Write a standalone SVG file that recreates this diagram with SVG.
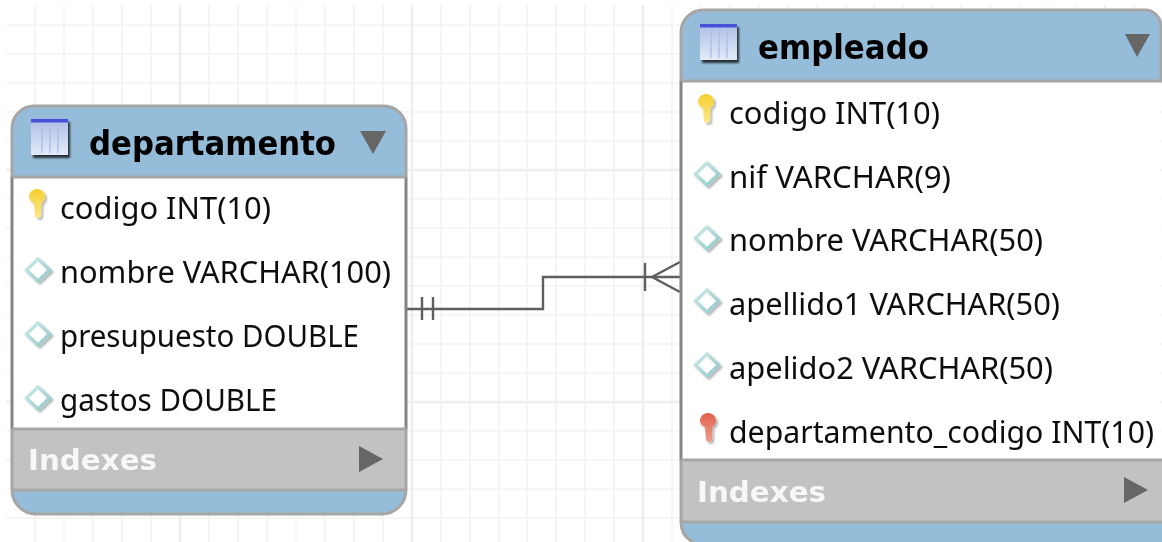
<svg xmlns="http://www.w3.org/2000/svg" width="1162" height="542" viewBox="0 0 1162 542">
<style>
.g{stroke:#f3f3f3;stroke-width:1.6;fill:none}
.G{stroke:#efefef;stroke-width:2.6;fill:none}
.t{font-family:"Noto Sans","Liberation Sans",Arial,sans-serif;font-size:30px;fill:#111;filter:url(#soft)}
.h{font-family:"DejaVu Sans",Verdana,sans-serif;font-weight:700;font-size:33px;fill:#060606;filter:url(#soft)}
.x{font-family:"DejaVu Sans",Verdana,sans-serif;font-weight:700;font-size:28px;fill:#f7f7f7;filter:url(#soft)}
.b{fill:#95bcd8}.i{fill:#c2c2c2}.w{fill:#fff}
.o{fill:none;stroke:#a6a6a6;stroke-width:3}
.s{fill:none;stroke:#858585;stroke-width:3}
.a{fill:#666}
.c{fill:none;stroke:#5e5e5e;stroke-width:2.4}
</style>
<defs>
<filter id="soft" x="-5%" y="-20%" width="110%" height="140%"><feGaussianBlur stdDeviation="0.45"/></filter>
<filter id="sh" x="-30%" y="-30%" width="170%" height="170%"><feGaussianBlur in="SourceAlpha" stdDeviation="1"/><feOffset dx="1.5" dy="2"/><feComponentTransfer><feFuncA type="linear" slope="0.3"/></feComponentTransfer><feMerge><feMergeNode/><feMergeNode in="SourceGraphic"/></feMerge></filter>
<filter id="shd" x="-30%" y="-30%" width="170%" height="170%"><feGaussianBlur in="SourceAlpha" stdDeviation="1.1"/><feOffset dx="2" dy="2.500"/><feComponentTransfer><feFuncA type="linear" slope="0.75"/></feComponentTransfer><feMerge><feMergeNode/><feMergeNode in="SourceGraphic"/></feMerge></filter>
<linearGradient id="tb" x1="0" y1="0" x2="0" y2="1"><stop offset="0" stop-color="#aebee6"/><stop offset="1" stop-color="#e4ebf8"/></linearGradient>
<linearGradient id="dg" x1="0" y1="0" x2="1" y2="1"><stop offset="0" stop-color="#cfe9e9"/><stop offset="1" stop-color="#8fc8c8"/></linearGradient>
<linearGradient id="ky" x1="0" y1="0" x2="0" y2="1"><stop offset="0" stop-color="#f5cf2e"/><stop offset="1" stop-color="#fbe88a"/></linearGradient>
<linearGradient id="kr" x1="0" y1="0" x2="0" y2="1"><stop offset="0" stop-color="#e0604c"/><stop offset="1" stop-color="#efa090"/></linearGradient>
<g id="tbl" filter="url(#shd)"><rect x="0" y="0" width="37" height="36" fill="url(#tb)"/><rect x="0" y="0" width="37" height="3.500" fill="#4a50d8"/><path d="M11 5V34M19 5V34M27 5V34" stroke="#b3c0e2" stroke-width="1.5" fill="none"/></g>
<g id="dia" filter="url(#sh)"><path d="M0 -11L11.500 0L0 11L-11.500 0Z" fill="#fff" stroke="url(#dg)" stroke-width="3.400"/></g>
<g id="key" filter="url(#sh)"><path d="M0 -15C5 -15 8 -11 8 -7C8 -4 6 -2 4.500 -1L4 12C3.500 14.500 -1.500 14.500 -2 12L-3 -1C-6 -2 -8 -4 -8 -7C-8 -11 -5 -15 0 -15Z"/></g>
</defs>
<rect width="1162" height="542" fill="#fff"/>
<g id="grid" filter="url(#soft)">
<path class="g" d="M6 25H1162M6 54H1162M6 83H1162M6 112H1162M6 141H1162M6 199H1162M6 228H1162M6 257H1162M6 286H1162M6 315H1162M6 344H1162M6 373H1162M6 431H1162M6 460H1162M6 489H1162M6 518H1162"/>
<path class="g" d="M35 5V542M64 5V542M93 5V542M122 5V542M151 5V542M209 5V542M238 5V542M267 5V542M296 5V542M325 5V542M354 5V542M383 5V542M441 5V542M470 5V542M499 5V542M527 5V542M556 5V542M585 5V542M614 5V542M672 5V542M701 5V542M730 5V542M759 5V542M788 5V542M817 5V542M846 5V542M903 5V542M932 5V542M961 5V542M990 5V542M1019 5V542M1048 5V542M1077 5V542M1134 5V542"/>
<path class="G" d="M6 170H1162M6 402H1162M180 5V542M412 5V542M643 5V542M874 5V542M1105 5V542"/>
</g>
<g id="connectors" filter="url(#soft)">
<path class="c" d="M407 309H543V277H681"/>
<path class="c" d="M422 297V320M433 297V320M645 263V291M652 277L680 262M652 277L680 292"/>
</g>
<g id="departamento">
<path class="w" d="M12 177H406V429H12Z"/>
<path class="b" d="M12 177V128A22 22 0 0 1 34 106H384A22 22 0 0 1 406 128V177Z"/>
<rect class="i" x="12" y="429" width="394" height="61"/>
<path class="b" d="M12 490H406A24 24 0 0 1 382 514H36A24 24 0 0 1 12 490Z"/>
<path class="s" d="M12 177V429M406 177V429"/>
<path class="o" d="M12 177V128A22 22 0 0 1 34 106H384A22 22 0 0 1 406 128V177M12 177H406M12 429H406M12 490H406M12 429V490A24 24 0 0 0 36 514H382A24 24 0 0 0 406 490V429"/>
<use href="#tbl" x="31" y="119"/>
<text class="h" x="89" y="155" textLength="247" lengthAdjust="spacingAndGlyphs">departamento</text>
<path class="a" d="M360 131H386L373 154Z"/>
<use href="#key" x="37" y="204" fill="url(#ky)"/>
<text class="t" x="60" y="219" textLength="211" lengthAdjust="spacingAndGlyphs">codigo INT(10)</text>
<use href="#dia" x="38" y="270"/>
<text class="t" x="60" y="283" textLength="331" lengthAdjust="spacingAndGlyphs">nombre VARCHAR(100)</text>
<use href="#dia" x="38" y="334"/>
<text class="t" x="60" y="347" textLength="299" lengthAdjust="spacingAndGlyphs">presupuesto DOUBLE</text>
<use href="#dia" x="38" y="398"/>
<text class="t" x="60" y="411" textLength="217" lengthAdjust="spacingAndGlyphs">gastos DOUBLE</text>
<text class="x" x="28" y="470" textLength="129" lengthAdjust="spacingAndGlyphs">Indexes</text>
<path class="a" d="M359 446L383 459L359 472Z"/>
</g>
<g id="empleado">
<path class="w" d="M681 81H1161V460H681Z"/>
<path class="b" d="M681 81V32A22 22 0 0 1 703 10H1145A16 16 0 0 1 1161 26V81Z"/>
<rect class="i" x="681" y="460" width="481" height="62"/>
<path class="b" d="M681 522H1162V542H693Q681 536 681 522Z"/>
<path class="s" d="M681 81V460"/>
<path class="o" d="M681 81V32A22 22 0 0 1 703 10H1145A16 16 0 0 1 1161 26V81M681 81H1162M681 460H1162M681 522H1162M681 460V522Q681 536 693 542"/>
<use href="#tbl" x="700" y="24"/>
<text class="h" x="758" y="59" textLength="171" lengthAdjust="spacingAndGlyphs">empleado</text>
<path class="a" d="M1125 34H1150L1137 57Z"/>
<use href="#key" x="706" y="109" fill="url(#ky)"/>
<text class="t" x="729" y="124" textLength="211" lengthAdjust="spacingAndGlyphs">codigo INT(10)</text>
<use href="#dia" x="707" y="174"/>
<text class="t" x="729" y="188" textLength="222" lengthAdjust="spacingAndGlyphs">nif VARCHAR(9)</text>
<use href="#dia" x="707" y="238"/>
<text class="t" x="729" y="251" textLength="314" lengthAdjust="spacingAndGlyphs">nombre VARCHAR(50)</text>
<use href="#dia" x="707" y="301"/>
<text class="t" x="729" y="315" textLength="331" lengthAdjust="spacingAndGlyphs">apellido1 VARCHAR(50)</text>
<use href="#dia" x="707" y="365"/>
<text class="t" x="729" y="379" textLength="324" lengthAdjust="spacingAndGlyphs">apelido2 VARCHAR(50)</text>
<use href="#key" x="708" y="428" fill="url(#kr)"/>
<text class="t" x="729" y="443" textLength="425" lengthAdjust="spacingAndGlyphs">departamento_codigo INT(10)</text>
<text class="x" x="697" y="502" textLength="129" lengthAdjust="spacingAndGlyphs">Indexes</text>
<path class="a" d="M1124 477L1148 490L1124 503Z"/>
</g>
</svg>
